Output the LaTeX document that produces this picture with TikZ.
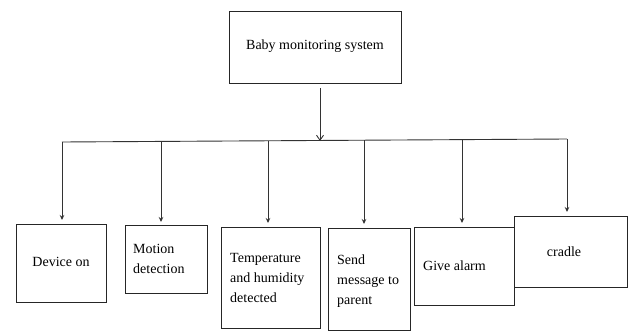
\documentclass[tikz,border=0pt]{standalone}
\usepackage{fontspec}
\setmainfont{Liberation Serif}
\usetikzlibrary{arrows.meta}
\begin{document}
\begin{tikzpicture}[x=1pt,y=-1pt,
  box/.style={draw=black!85,line width=0.9pt,inner sep=0pt,outer sep=0pt,rectangle},
  lbl/.style={inner sep=0pt,align=left,font=\fontsize{14}{20}\selectfont},
  conn/.style={draw=black!80,line width=0.9pt},
  brarrow/.style={conn,-{Stealth[length=5pt,width=4.5pt]}},
  mainarrow/.style={conn,-{Straight Barb[length=5pt,width=7pt]}}]
\useasboundingbox (0,0) rectangle (629,332);
% boxes
\node[box,minimum width=172pt,minimum height=72pt] (top) at (315,47) {};
\node[box,minimum width=90pt,minimum height=78pt] (b1) at (61,263) {};
\node[box,minimum width=82pt,minimum height=68pt] (b2) at (166,259) {};
\node[box,minimum width=99pt,minimum height=101pt] (b3) at (270.5,277.5) {};
\node[box,minimum width=82pt,minimum height=102pt] (b4) at (369,279) {};
\node[box,minimum width=100pt,minimum height=78pt] (b5) at (464,266) {};
\node[box,minimum width=113pt,minimum height=71pt] (b6) at (570.5,251.5) {};
% labels
\node[lbl,anchor=center] (toptxt) at (315,46) {Baby monitoring system};
\node[lbl,anchor=center] (t1) at (61,262) {Device on};
\node[lbl,anchor=west] (t2) at (133,259) {Motion\\detection};
\node[lbl,anchor=west] (t3) at (230,278) {Temperature\\and humidity\\detected};
\node[lbl,anchor=west] (t4) at (337,281) {Send\\message to\\parent};
\node[lbl,anchor=west] (t5) at (423,266) {Give alarm};
\node[lbl,anchor=center] (t6) at (564,252) {cradle};
% connectors
\coordinate (topb) at (320,88);
\coordinate (hub) at (320,141);
\coordinate (L) at (62,142);
\coordinate (R) at (567,139);
\coordinate (j2) at (161,142);
\coordinate (j3) at (268,141);
\coordinate (j4) at (364,140);
\coordinate (j5) at (462,140);
\draw[mainarrow] (topb) -- (hub);
\draw[conn] (L) -- (R);
\draw[brarrow] (L) -- ([yshift=4pt]b1.north -| L);
\draw[brarrow] (j2) -- ([yshift=3pt]b2.north -| j2);
\draw[brarrow] (j3) -- ([yshift=4pt]b3.north -| j3);
\draw[brarrow] (j4) -- ([yshift=4pt]b4.north -| j4);
\draw[brarrow] (j5) -- ([yshift=4pt]b5.north -| j5);
\draw[brarrow] (R) -- ([yshift=4pt]b6.north -| R);
\end{tikzpicture}
\end{document}
